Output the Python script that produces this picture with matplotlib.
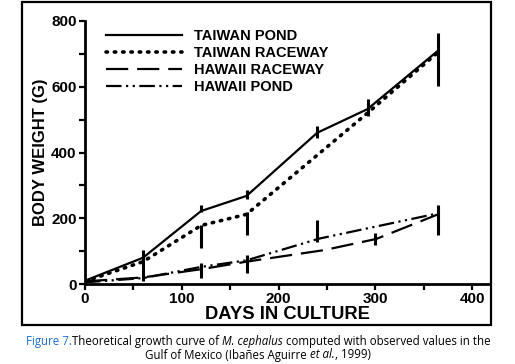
import matplotlib.pyplot as plt
from matplotlib.patches import Rectangle

# growth curves
tp_days = [0, 60, 120, 167, 240, 292, 365]
taiwan_pond = [10, 80, 222, 268, 460, 532, 710]
tr_days = [0, 60, 120, 167, 292, 365]
taiwan_raceway = [8, 68, 178, 212, 520, 705]
hr_days = [0, 60, 120, 167, 247, 301, 365]
hawaii_raceway = [8, 20, 45, 68, 103, 137, 212]
hp_days = [0, 60, 120, 167, 242, 365]
hawaii_pond = [5, 18, 52, 72, 138, 215]

# observed ranges (vertical bars)
bar_days = [60, 120, 120, 120, 167, 167, 167, 240, 240, 292, 300, 365, 365]
bar_low = [10, 110, 218, 18, 148, 260, 33, 127, 445, 512, 118, 148, 603]
bar_high = [103, 180, 240, 64, 218, 285, 88, 194, 482, 564, 155, 240, 765]

fig = plt.figure(figsize=(5.15, 3.64), dpi=100)
W, H = 515, 364
ax = fig.add_axes([85 / W, 1 - 284 / H, (490 - 85) / W, (284 - 21) / H])

lw = 1.6
ax.plot(tp_days, taiwan_pond, color='black', lw=lw, label='TAIWAN POND')
ax.plot(tr_days, taiwan_raceway, color='black', lw=2.6, linestyle=(0, (0.4, 1.9)),
        dash_capstyle='round', label='TAIWAN RACEWAY')
ax.plot(hr_days, hawaii_raceway, color='black', lw=lw, linestyle=(0, (10, 4)),
        label='HAWAII RACEWAY')
ax.plot(hp_days, hawaii_pond, color='black', lw=lw, linestyle=(0, (7, 2, 1, 2, 1, 2)),
        label='HAWAII POND')
ax.vlines(bar_days, bar_low, bar_high, color='black', lw=2.2)

ax.set_xlim(0, 418.6)
ax.set_ylim(0, 800)
ax.spines['top'].set_visible(False)
ax.spines['right'].set_visible(False)
ax.spines['left'].set_linewidth(2)
ax.spines['bottom'].set_linewidth(2)

ax.set_xticks(range(0, 401, 50))
ax.set_xticklabels(['0', '', '100', '', '200', '', '300', '', '400'])
ax.set_yticks(range(0, 801, 100))
ax.set_yticklabels(['0', '', '200', '', '400', '', '600', '', '800'])
ax.tick_params(direction='out', length=4, width=1.6, pad=2)
for lab in ax.get_xticklabels() + ax.get_yticklabels():
    lab.set_fontfamily('Liberation Sans')
    lab.set_fontweight('bold')
    lab.set_fontsize(11)

ax.set_xlabel('DAYS IN CULTURE', fontfamily='Liberation Sans', fontweight='bold',
              fontsize=13.2, labelpad=0)
ax.set_ylabel('BODY WEIGHT (G)', fontfamily='Liberation Sans', fontweight='bold',
              fontsize=12, labelpad=2)

leg = ax.legend(loc='upper left', bbox_to_anchor=(0.02, 1.02), frameon=False,
                handlelength=5.2, handletextpad=0.8, labelspacing=0.22,
                prop={'family': 'Liberation Sans', 'weight': 'bold', 'size': 10.5})

# frame around the scanned figure
fig.patches.append(Rectangle((22 / W, 1 - 325 / H), (491 - 22) / W, (325 - 2) / H,
                             transform=fig.transFigure, fill=False,
                             edgecolor='black', lw=1.6))

# caption, built from pieces so the styles can be mixed
capfont = dict(family='Open Sans', size=8.3)
lines = [
    [('Figure 7.', '#1a6fd4', 'normal'),
     ('Theoretical growth curve of ', 'black', 'normal'),
     ('M. cephalus', 'black', 'italic'),
     (' computed with observed values in the', 'black', 'normal')],
    [('Gulf of Mexico (Ibañes Aguirre ', 'black', 'normal'),
     ('et al.', 'black', 'italic'),
     (', 1999)', 'black', 'normal')],
]
ys = [341, 355]
fig.canvas.draw()
r = fig.canvas.get_renderer()
for parts, yp in zip(lines, ys):
    texts = []
    for s, c, st in parts:
        t = fig.text(0, 1 - yp / H, s, color=c, style=st, va='center', **capfont)
        texts.append(t)
    widths = [t.get_window_extent(r).width for t in texts]
    x = (258 - sum(widths) / 2)
    for t, w in zip(texts, widths):
        t.set_x(x / W)
        x += w

fig.savefig('out.png', dpi=100)
